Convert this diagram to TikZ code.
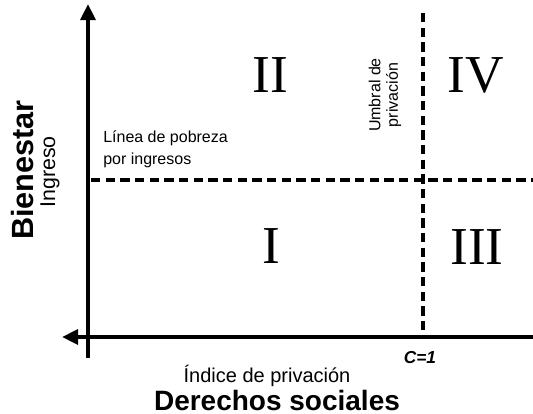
\documentclass[tikz,border=0pt]{standalone}
\usepackage{fontspec}
\setmainfont{Liberation Serif}
\setsansfont{Liberation Sans}
\usetikzlibrary{arrows.meta}

\begin{document}
\begin{tikzpicture}[x=0.75pt,y=-0.75pt,>={Triangle[length=12pt,width=11pt]},
    axis/.style={line width=3.4pt},
    umbral/.style={line width=2.6pt,dash pattern=on 7pt off 4pt},
    quad/.style={font=\fontsize{40}{40}\selectfont},
    lbl/.style={font=\sffamily\fontsize{12}{13}\selectfont,inner sep=0pt}]
    \useasboundingbox (0,0) rectangle (533,414);

    % ejes
    \coordinate (ytop) at (88,4);
    \coordinate (ybot) at (88,358);
    \coordinate (xleft) at (62,337);
    \coordinate (xright) at (533,337);
    \draw[axis,->] (ybot) -- (ytop);
    \draw[axis,->] (xright) -- (xleft);

    % umbral y linea de pobreza
    \coordinate (utop) at (423,13);
    \coordinate (ubot) at (423,337);
    \coordinate (lleft) at (91,180);
    \coordinate (lright) at (533,180);
    \draw[umbral] (utop) -- (ubot);
    \draw[umbral] (lleft) -- (lright);

    % cuadrantes
    \node[quad] (q2) at (270,75) {II};
    \node[quad] (q4) at (476,75) {IV};
    \node[quad] (q1) at (271,246) {I};
    \node[quad] (q3) at (477,247) {III};

    % textos
    \node[lbl,align=left,anchor=north west,font=\sffamily\fontsize{12}{16.5}\selectfont] (linea) at (103,130) {L\'inea de pobreza\\por ingresos};
    \node[lbl,align=center,rotate=90] (umb) at (385,95) {Umbral de\\privaci\'on};
    \node[lbl,rotate=90,font=\sffamily\bfseries\fontsize{23}{23}\selectfont] (bien) at (23,170) {Bienestar};
    \node[lbl,rotate=90,font=\sffamily\fontsize{16}{16}\selectfont] (ingreso) at (50,172) {Ingreso};
    \node[lbl,anchor=base,font=\sffamily\fontsize{15}{15}\selectfont] (indice) at (267,382) {\'Indice de privaci\'on};
    \node[lbl,anchor=base,font=\sffamily\bfseries\fontsize{21}{21}\selectfont] (derechos) at (277,410) {Derechos sociales};
    \node[lbl,anchor=base,font=\sffamily\bfseries\itshape\fontsize{13}{13}\selectfont] (c1) at (420,363) {C=1};
\end{tikzpicture}
\end{document}
